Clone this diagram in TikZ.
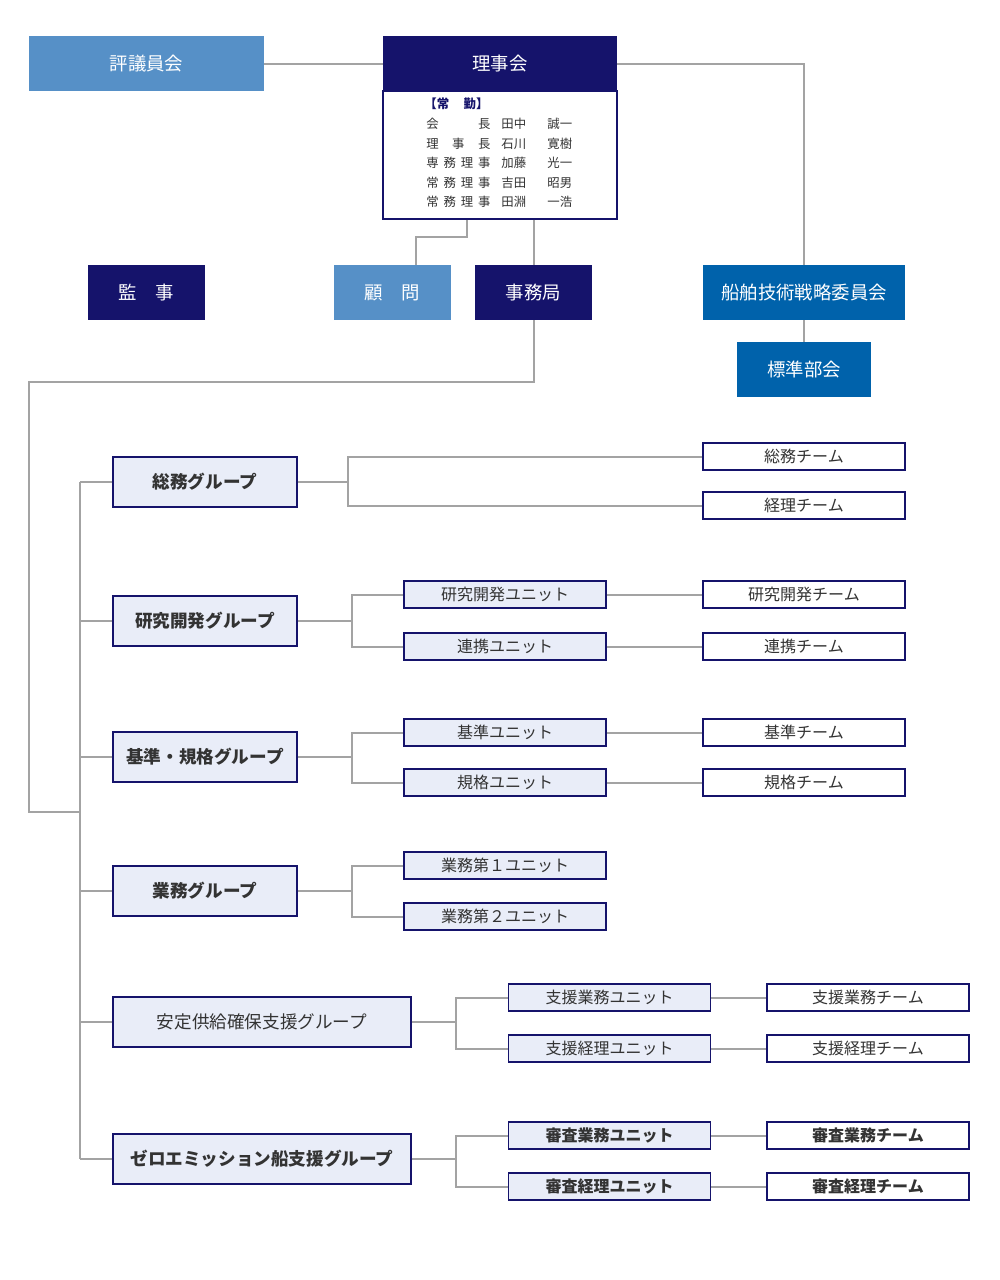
\documentclass[tikz,border=0pt]{standalone}
\usepackage{fontspec}
\setmainfont{Noto Sans CJK JP}
\definecolor{navy}{HTML}{15136B}
\definecolor{skyblue}{HTML}{5690C7}
\definecolor{midblue}{HTML}{0062AB}
\definecolor{paleblue}{HTML}{E9EDF8}
\definecolor{linegray}{HTML}{A3A3A3}
\definecolor{textgray}{HTML}{333333}
\tikzset{
  conn/.style={draw=linegray, line width=1pt},
  topbox/.style={minimum height=27.5pt, inner sep=0pt, text=white, font=\fontsize{9.2}{10}\selectfont},
  groupbox/.style={draw=navy, line width=0.8pt, fill=paleblue, minimum height=25pt, inner sep=0pt,
    text=textgray, font=\fontsize{8.8}{10}\selectfont\bfseries},
  unitbox/.style={draw=navy, line width=0.8pt, fill=paleblue, minimum width=101pt, minimum height=13.5pt,
    inner sep=0pt, text=textgray, font=\fontsize{8}{9}\selectfont},
  teambox/.style={draw=navy, line width=0.8pt, fill=white, minimum width=101pt, minimum height=13.5pt,
    inner sep=0pt, text=textgray, font=\fontsize{8}{9}\selectfont},
  member/.style={anchor=west, inner sep=0pt, text=textgray, font=\fontsize{6.2}{7}\selectfont}
}
\newcommand{\yaku}[1]{\makebox[37.5pt][l]{\makebox[32pt][s]{#1}}}
\newcommand{\sei}[1]{\makebox[23pt][l]{#1}}
\begin{document}
\begin{tikzpicture}[x=0.5pt, y=-0.5pt]
    \useasboundingbox (0,0) rectangle (1000,1280);

    % 評議員会・理事会
    \node[topbox, fill=skyblue, minimum width=117.5pt] (hyo) at (146.5,63.5) {評議員会};
    \node[topbox, fill=navy, minimum width=117pt] (riji) at (500,63.5) {理事会};
    \node[draw=navy, line width=0.8pt, fill=white, minimum width=117pt, minimum height=64pt,
      inner sep=0pt] (body) at (500,155) {};

    % 常勤役員
    \node[member, text=navy, font=\fontsize{6.2}{7}\selectfont\bfseries] (jokin) at (424,104)
      {\makebox[32pt][s]{【常\hfill 勤】}};
    \node[member] (m1) at (426,124) {\yaku{会\hfill 長}\sei{田中}誠一};
    \node[member] (m2) at (426,143.5) {\yaku{理\hfill 事\hfill 長}\sei{石川}寛樹};
    \node[member] (m3) at (426,163) {\yaku{専\hfill 務\hfill 理\hfill 事}\sei{加藤}光一};
    \node[member] (m4) at (426,182.5) {\yaku{常\hfill 務\hfill 理\hfill 事}\sei{吉田}昭男};
    \node[member] (m5) at (426,202) {\yaku{常\hfill 務\hfill 理\hfill 事}\sei{田淵}一浩};

    % 監事・顧問・事務局・委員会
    \node[topbox, fill=navy, minimum width=58.5pt] (kanji) at (146.5,292.5) {監\hspace{1em}事};
    \node[topbox, fill=skyblue, minimum width=58.5pt] (komon) at (392.5,292.5) {顧\hspace{1em}問};
    \node[topbox, fill=navy, minimum width=58.5pt] (jimu) at (533.5,292.5) {事務局};
    \node[topbox, fill=midblue, minimum width=101pt] (senpaku) at (804,292.5) {船舶技術戦略委員会};
    \node[topbox, fill=midblue, minimum width=67pt] (hyojun) at (804,369.5) {標準部会};

    \draw[conn] (hyo) -- (riji);
    \draw[conn] (riji.east) -| (senpaku.north);
    \draw[conn] (senpaku) -- (hyojun);
    \draw[conn] ([xshift=-16.5pt]body.south) -- ++(0,17) -| ([xshift=11.75pt]komon.north);
    \draw[conn] (body.south -| jimu.north) -- (jimu.north);

    % グループ
    \node[groupbox, minimum width=92pt] (g1) at (205,482) {総務グループ};
    \node[groupbox, minimum width=92pt] (g2) at (205,621) {研究開発グループ};
    \node[groupbox, minimum width=92pt] (g3) at (205,757) {基準・規格グループ};
    \node[groupbox, minimum width=92pt] (g4) at (205,891) {業務グループ};
    \node[groupbox, minimum width=149pt, font=\fontsize{8.8}{10}\selectfont] (g5) at (262,1022) {安定供給確保支援グループ};
    \node[groupbox, minimum width=149pt] (g6) at (262,1159) {ゼロエミッション船支援グループ};

    % ユニット
    \node[unitbox] (u21) at (505,594.5) {研究開発ユニット};
    \node[unitbox] (u22) at (505,646.5) {連携ユニット};
    \node[unitbox] (u31) at (505,732.5) {基準ユニット};
    \node[unitbox] (u32) at (505,782.5) {規格ユニット};
    \node[unitbox] (u41) at (505,865.5) {業務第１ユニット};
    \node[unitbox] (u42) at (505,916.5) {業務第２ユニット};
    \node[unitbox] (u51) at (609.5,997.5) {支援業務ユニット};
    \node[unitbox] (u52) at (609.5,1048.5) {支援経理ユニット};
    \node[unitbox, font=\fontsize{8}{9}\selectfont\bfseries] (u61) at (609.5,1135.5) {審査業務ユニット};
    \node[unitbox, font=\fontsize{8}{9}\selectfont\bfseries] (u62) at (609.5,1186.5) {審査経理ユニット};

    % チーム
    \node[teambox] (t11) at (804,456.5) {総務チーム};
    \node[teambox] (t12) at (804,505.5) {経理チーム};
    \node[teambox] (t21) at (804,594.5) {研究開発チーム};
    \node[teambox] (t22) at (804,646.5) {連携チーム};
    \node[teambox] (t31) at (804,732.5) {基準チーム};
    \node[teambox] (t32) at (804,782.5) {規格チーム};
    \node[teambox] (t51) at (868,997.5) {支援業務チーム};
    \node[teambox] (t52) at (868,1048.5) {支援経理チーム};
    \node[teambox, font=\fontsize{8}{9}\selectfont\bfseries] (t61) at (868,1135.5) {審査業務チーム};
    \node[teambox, font=\fontsize{8}{9}\selectfont\bfseries] (t62) at (868,1186.5) {審査経理チーム};

    % 事務局から幹線へ
    \coordinate (tj) at (80,812);
    \draw[conn] (jimu.south) |- (29,382) |- (tj);
    \draw[conn] (g1.west -| tj) -- (g6.west -| tj);
    \foreach \g in {g1,g2,g3,g4,g5,g6}
        \draw[conn] (\g.west) -- (\g.west -| tj);

    % グループから下位へ
    \draw[conn] (g1.east) -- ++(50,0) |- (t11.west);
    \draw[conn] (g1.east) -- ++(50,0) |- (t12.west);
    \draw[conn] (g2.east) -- ++(54,0) |- (u21.west);
    \draw[conn] (g2.east) -- ++(54,0) |- (u22.west);
    \draw[conn] (g3.east) -- ++(54,0) |- (u31.west);
    \draw[conn] (g3.east) -- ++(54,0) |- (u32.west);
    \draw[conn] (g4.east) -- ++(54,0) |- (u41.west);
    \draw[conn] (g4.east) -- ++(54,0) |- (u42.west);
    \draw[conn] (g5.east) -- ++(44,0) |- (u51.west);
    \draw[conn] (g5.east) -- ++(44,0) |- (u52.west);
    \draw[conn] (g6.east) -- ++(44,0) |- (u61.west);
    \draw[conn] (g6.east) -- ++(44,0) |- (u62.west);

    \draw[conn] (u21) -- (t21);
    \draw[conn] (u22) -- (t22);
    \draw[conn] (u31) -- (t31);
    \draw[conn] (u32) -- (t32);
    \draw[conn] (u51) -- (t51);
    \draw[conn] (u52) -- (t52);
    \draw[conn] (u61) -- (t61);
    \draw[conn] (u62) -- (t62);
\end{tikzpicture}
\end{document}
